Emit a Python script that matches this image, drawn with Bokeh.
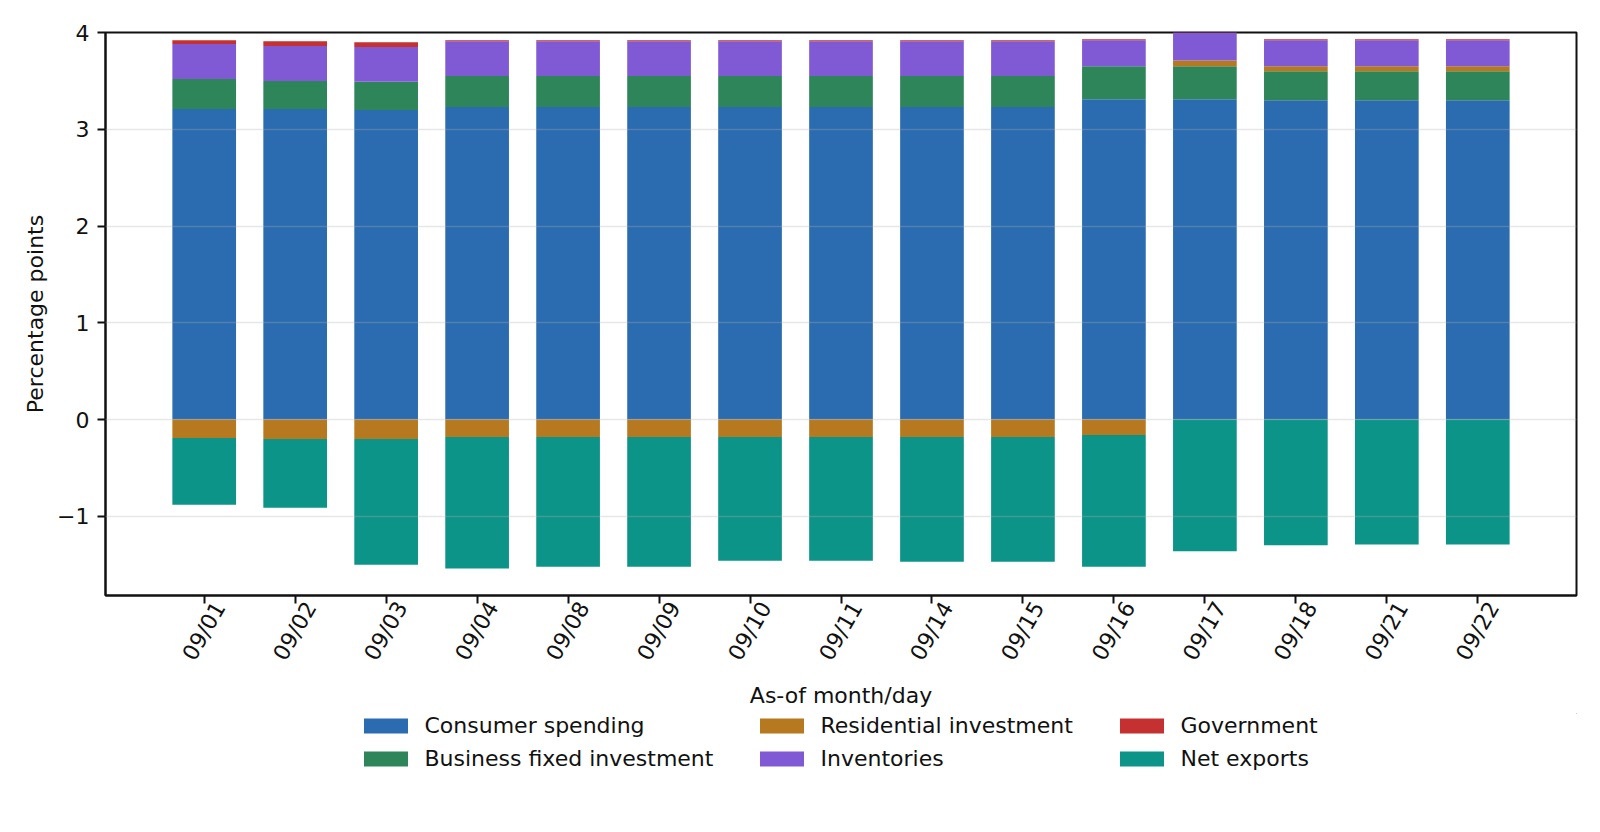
import numpy as np
from bokeh.plotting import figure
from bokeh.layouts import column
from bokeh.models import (Range1d, FixedTicker, ColumnDataSource, Legend, LegendItem,
                          LinearAxis)
from bokeh.embed import file_html
from bokeh.resources import INLINE

# ---- data ----
dates = ["09/01", "09/02", "09/03", "09/04", "09/08", "09/09", "09/10", "09/11",
         "09/14", "09/15", "09/16", "09/17", "09/18", "09/21", "09/22"]
consumer = [3.21, 3.21, 3.20, 3.23, 3.23, 3.23, 3.23, 3.23, 3.23, 3.23, 3.31, 3.31, 3.30, 3.30, 3.30]
business = [0.31, 0.29, 0.29, 0.32, 0.32, 0.32, 0.32, 0.32, 0.32, 0.32, 0.34, 0.34, 0.30, 0.30, 0.30]
residential = [-0.19, -0.20, -0.20, -0.18, -0.18, -0.18, -0.18, -0.18, -0.18, -0.18, -0.16, 0.06, 0.05, 0.05, 0.05]
inventories = [0.36, 0.36, 0.36, 0.36, 0.36, 0.36, 0.36, 0.36, 0.36, 0.36, 0.27, 0.30, 0.27, 0.27, 0.27]
government = [0.04, 0.05, 0.05, 0.01, 0.01, 0.01, 0.01, 0.01, 0.01, 0.01, 0.01, 0.01, 0.01, 0.01, 0.01]
net_exports = [-0.69, -0.71, -1.30, -1.36, -1.34, -1.34, -1.28, -1.28, -1.29, -1.29, -1.36, -1.36, -1.30, -1.29, -1.29]

labels = ["Consumer spending", "Business fixed investment", "Residential investment",
          "Inventories", "Government", "Net exports"]
colors = ["#2b6cb0", "#2f855a", "#b7791f", "#805ad5", "#c53030", "#0d9488"]
all_series = [consumer, business, residential, inventories, government, net_exports]
y_ticks = [-1, 0, 1, 2, 3, 4]

FONT = "DejaVu Sans"
INK = "#111111"
X0, X1 = -1.085, 15.085
LABEL_SHIFT = 0.172   # moves rotated labels so they are centred under their ticks
LEFT = 105

p = figure(width=1584, height=713, output_backend="svg", toolbar_location=None,
           x_range=Range1d(X0, X1), y_range=Range1d(-1.818, 4.0),
           min_border_left=LEFT, min_border_right=8, min_border_top=32, min_border_bottom=118)
p.background_fill_color = "white"
p.border_fill_color = "white"
p.outline_line_color = INK
p.outline_line_width = 2

xs = np.arange(len(dates))
pos = np.zeros(len(dates))
neg = np.zeros(len(dates))
for lab, vals, col in zip(labels, all_series, colors):
    v = np.array(vals, dtype=float)
    bottom = np.where(v >= 0, pos, neg + v)
    top = np.where(v >= 0, pos + v, neg)
    pos = np.where(v >= 0, pos + v, pos)
    neg = np.where(v < 0, neg + v, neg)
    src = ColumnDataSource(dict(x=xs, top=top, bottom=bottom))
    p.vbar(x="x", top="top", bottom="bottom", width=0.7, source=src,
           fill_color=col, line_color=None)


def style_axis(ax):
    ax.axis_line_color = INK
    ax.axis_line_width = 2
    ax.major_tick_line_color = INK
    ax.major_tick_line_width = 2
    ax.major_tick_out = 8
    ax.major_tick_in = 0
    ax.minor_tick_out = 0
    ax.minor_tick_in = 0
    ax.major_label_text_font = FONT
    ax.major_label_text_font_size = "22px"
    ax.major_label_text_color = INK
    ax.axis_label_text_font = FONT
    ax.axis_label_text_font_size = "22px"
    ax.axis_label_text_font_style = "normal"
    ax.axis_label_text_color = INK


style_axis(p.yaxis[0])
p.yaxis.ticker = FixedTicker(ticks=y_ticks)
p.yaxis.major_label_overrides = {t: str(t).replace("-", "\u2212") for t in y_ticks}
p.yaxis.major_label_standoff = 8
p.yaxis.axis_label = "Percentage points"
p.yaxis.axis_label_standoff = 6

# x axis: tick marks only
style_axis(p.xaxis[0])
p.xaxis.ticker = FixedTicker(ticks=list(range(len(dates))))
p.xaxis.major_label_text_font_size = "0px"
p.xaxis.major_label_standoff = 0
p.xaxis.major_label_overrides = {i: "" for i in range(len(dates))}

# second below axis carrying the rotated date labels and the axis title
p.extra_x_ranges = {"labels": Range1d(X0 - LABEL_SHIFT, X1 - LABEL_SHIFT)}
lab_axis = LinearAxis(x_range_name="labels")
style_axis(lab_axis)
lab_axis.ticker = FixedTicker(ticks=list(range(len(dates))))
lab_axis.major_label_overrides = {i: d for i, d in enumerate(dates)}
lab_axis.major_label_orientation = np.pi / 3
lab_axis.major_label_standoff = 0
lab_axis.axis_line_color = None
lab_axis.major_tick_line_color = None
lab_axis.major_tick_out = 0
lab_axis.axis_label = "As-of month/day"
lab_axis.axis_label_standoff = 9
p.add_layout(lab_axis, "below")

p.xgrid.visible = False
p.ygrid.ticker = FixedTicker(ticks=y_ticks)
p.ygrid.grid_line_color = "#b0b0b0"
p.ygrid.grid_line_alpha = 0.3
p.ygrid.grid_line_width = 1.6
p.ygrid.level = "overlay"

# ---- legend panel below the chart ----
q = figure(width=1584, height=80, output_backend="svg", toolbar_location=None,
           x_range=Range1d(0, 1), y_range=Range1d(0, 1),
           x_axis_type=None, y_axis_type=None,
           min_border_left=LEFT, min_border_right=8, min_border_top=0, min_border_bottom=0)
q.outline_line_color = None
q.grid.visible = False
q.background_fill_color = "white"
q.border_fill_color = "white"
# one off-screen bar per series, only so that the legend can draw its swatch
legend_renderers = []
for c in colors:
    s = ColumnDataSource(dict(x=[5.0], top=[5.0], bottom=[4.0]))
    legend_renderers.append(q.vbar(x="x", top="top", bottom="bottom", width=0.7, source=s,
                                   fill_color=c, line_color=None))

col_x = [363 - 5.5 - LEFT, 759 - 5.5 - LEFT, 1119 - 5.5 - LEFT]
for c in range(3):
    items = [LegendItem(label=labels[2 * c + k], renderers=[legend_renderers[2 * c + k]])
             for k in range(2)]
    leg = Legend(items=items, location=(col_x[c], 22.5), orientation="vertical",
                 padding=0, margin=0, spacing=8, glyph_width=55, glyph_height=19,
                 label_standoff=12, label_height=19,
                 label_text_font=FONT, label_text_font_size="22px", label_text_color=INK,
                 border_line_color=None, background_fill_alpha=0)
    q.add_layout(leg, "center")

layout = column(p, q, spacing=0)
open("out.html", "w").write(file_html(layout, INLINE))
